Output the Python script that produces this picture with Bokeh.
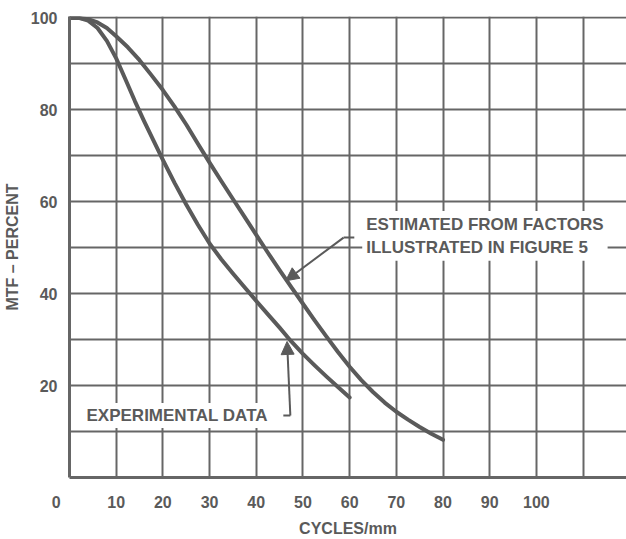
import numpy as np
from bokeh.plotting import figure
from bokeh.models import Range1d, FixedTicker, Label, Arrow, NormalHead
from bokeh.embed import file_html
from bokeh.resources import INLINE

# ---- data ----
est_x = [0, 2, 4, 6, 8, 10, 12.5, 15, 17.5, 20, 22.5, 25, 27.5, 30, 32.5, 35, 37.5, 40, 42.5, 45,
         47.5, 50, 52.5, 55, 57.5, 60, 62.5, 65, 67.5, 70, 72.5, 75, 77.5, 80]
est_y = [100, 100, 99.7, 99.0, 97.8, 96.0, 93.6, 90.8, 87.6, 84.3, 80.7, 76.8, 72.6, 68.5, 64.5, 60.6,
         56.7, 52.8, 48.9, 45.1, 41.4, 37.8, 34.2, 30.7, 27.3, 24.1, 21.2, 18.6, 16.3, 14.3, 12.6, 11.0, 9.5, 8.2]

exp_x = [0, 2, 4, 6, 8, 10, 12, 14, 16, 18, 20, 22.5, 25, 27.5, 30, 32.5, 35, 37.5, 40, 42.5, 45,
         47.5, 50, 52.5, 55, 57.5, 60]
exp_y = [100, 100, 99.4, 97.8, 95.0, 91.2, 86.6, 81.9, 77.5, 73.3, 69.1, 64.1, 59.4, 55.0, 50.9, 47.5,
         44.4, 41.4, 38.4, 35.5, 32.6, 29.6, 26.9, 24.4, 22.0, 19.7, 17.4]

x_ticks = [0, 10, 20, 30, 40, 50, 60, 70, 80, 90, 100]
x_labels = ["0", "10", "20", "30", "40", "50", "60", "70", "80", "90", "100"]
x_grid = [10, 20, 30, 40, 50, 60, 70, 80, 90, 100, 110]
y_ticks = [20, 40, 60, 80, 100]
y_grid = [10, 20, 30, 40, 50, 60, 70, 80, 90, 100]

x_title = "CYCLES/mm"
y_title = "MTF \u2013 PERCENT"
est_note = "ESTIMATED FROM FACTORS\nILLUSTRATED IN FIGURE 5"
exp_note = "EXPERIMENTAL DATA"

# ---- styling ----
INK = "#5a5a5a"
GRID = "#666666"
FONT = "Liberation Sans"

p = figure(width=626, height=539, output_backend="svg", toolbar_location=None,
           x_range=Range1d(0, 119.3), y_range=Range1d(0, 100.3),
           min_border_left=69, min_border_right=0, min_border_top=16, min_border_bottom=62)
p.outline_line_color = None
p.background_fill_color = "white"
p.border_fill_color = "white"

for g, ticks in ((p.xgrid, x_grid), (p.ygrid, y_grid)):
    g.ticker = FixedTicker(ticks=ticks)
    g.grid_line_color = GRID
    g.grid_line_width = 2

for ax, ticks in ((p.xaxis, x_ticks), (p.yaxis, y_ticks)):
    ax.ticker = FixedTicker(ticks=ticks)
    ax.major_tick_line_color = None
    ax.minor_tick_line_color = None
    ax.axis_line_color = GRID
    ax.axis_line_width = 3
    ax.major_label_text_font = FONT
    ax.major_label_text_font_style = "bold"
    ax.major_label_text_font_size = "16px"
    ax.major_label_text_color = INK
    ax.axis_label_text_font = FONT
    ax.axis_label_text_font_style = "bold"
    ax.axis_label_text_font_size = "16px"
    ax.axis_label_text_color = INK

# the origin "0" sits left of the corner in the reference: pad it with no-break spaces
overrides = {t: lab for t, lab in zip(x_ticks, x_labels)}
overrides[x_ticks[0]] = x_labels[0] + "\u00a0" * 6
p.xaxis.major_label_overrides = overrides
p.xaxis.major_label_standoff = 10
p.yaxis.major_label_standoff = 6
p.xaxis.axis_label = x_title
p.xaxis.axis_label_standoff = 6
p.yaxis.axis_label = y_title
p.yaxis.axis_label_standoff = 7

# curves
p.line(est_x, est_y, line_color=INK, line_width=4, line_join="round", line_cap="round")
p.line(exp_x, exp_y, line_color=INK, line_width=4, line_join="round", line_cap="round")

# annotation: estimated
p.add_layout(Label(x=62.7, y=58.0, text=est_note, text_font=FONT, text_font_style="bold",
                   text_font_size="17px", text_color=INK, text_align="left", text_baseline="top",
                   background_fill_color="white", padding=4, text_line_height=1.2))
p.segment(x0=[58.7], y0=[52.2], x1=[61.0], y1=[52.2], line_color=INK, line_width=2)
p.add_layout(Arrow(x_start=58.7, y_start=52.2, x_end=46.3, y_end=42.8, line_color=INK, line_width=2,
                   end=NormalHead(size=13, fill_color=INK, line_color=INK)))

# annotation: experimental
p.add_layout(Label(x=3.0, y=13.5, text=exp_note, text_font=FONT, text_font_style="bold",
                   text_font_size="17px", text_color=INK, text_align="left", text_baseline="middle",
                   background_fill_color="white", padding=3))
p.segment(x0=[45.8], y0=[13.5], x1=[47.3], y1=[13.5], line_color=INK, line_width=2)
p.add_layout(Arrow(x_start=47.3, y_start=13.5, x_end=46.6, y_end=29.6, line_color=INK, line_width=2,
                   end=NormalHead(size=13, fill_color=INK, line_color=INK)))

open("out.html", "w").write(file_html(p, INLINE))
